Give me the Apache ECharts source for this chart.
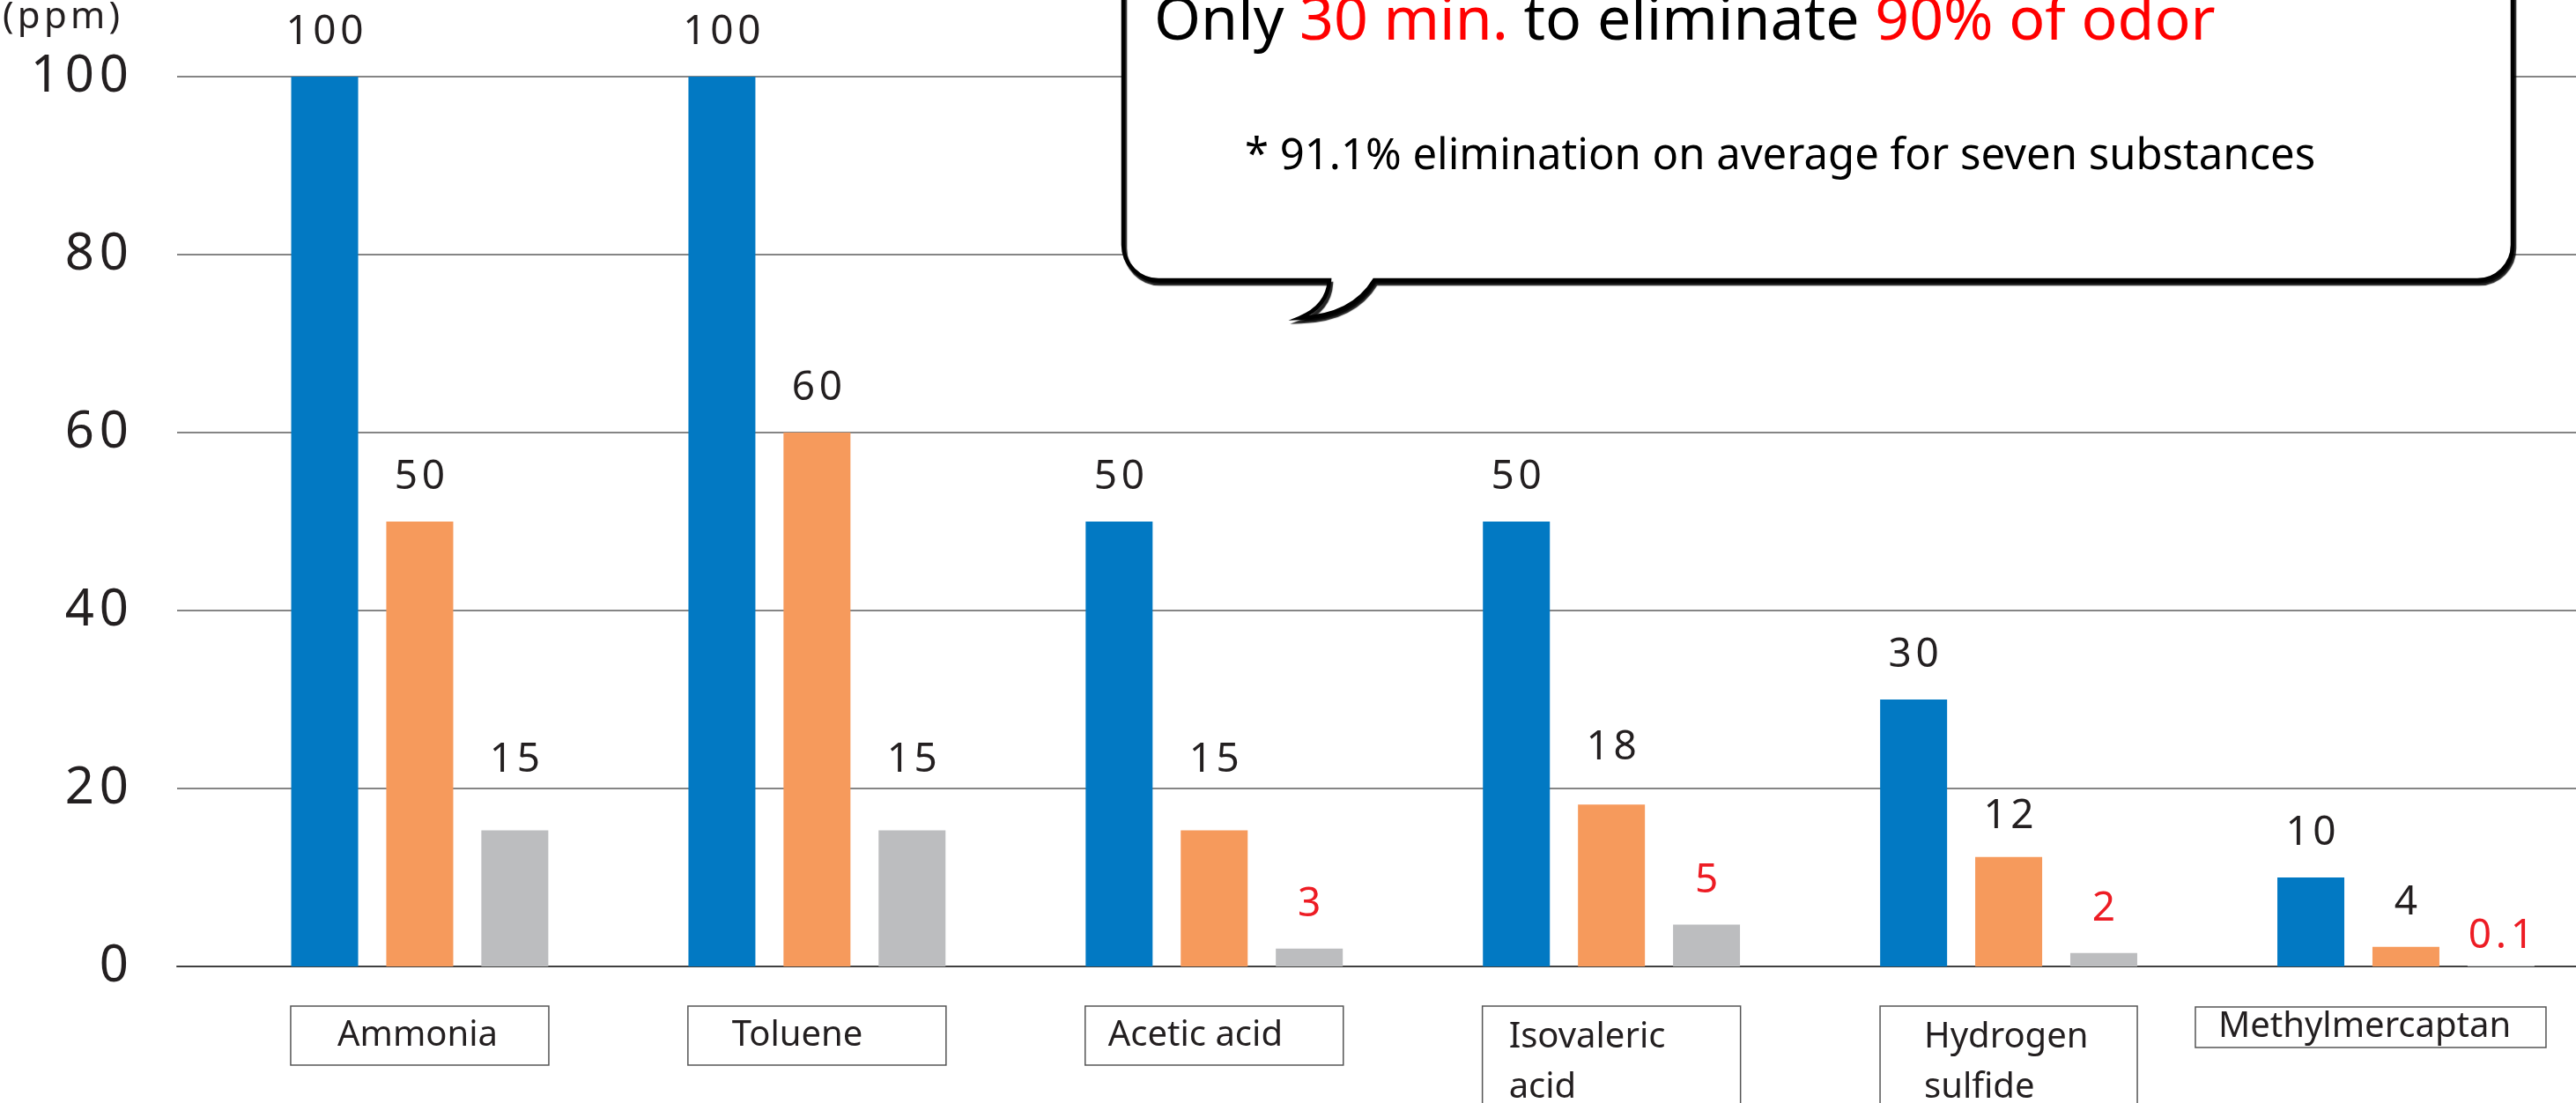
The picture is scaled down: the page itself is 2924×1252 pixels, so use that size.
<!DOCTYPE html>
<html>
<head>
<meta charset="utf-8">
<title>Odor elimination</title>
<script src="https://cdn.jsdelivr.net/npm/echarts@6/dist/echarts.min.js"></script>
<style>
  html, body { margin: 0; padding: 0; background: #fff; }
  #chart { width: 2924px; height: 1252px; }
</style>
</head>
<body>
<div id="chart"></div>
<script>
// data
const substances = ['Ammonia', 'Toluene', 'Acetic acid', 'Isovaleric acid', 'Hydrogen sulfide', 'Methylmercaptan'];
const categoryLines = [['Ammonia'], ['Toluene'], ['Acetic acid'], ['Isovaleric', 'acid'], ['Hydrogen', 'sulfide'], ['Methylmercaptan']];
const initialPpm = [100, 100, 50, 50, 30, 10];
const midPpm = [50, 60, 15.3, 18.2, 12.3, 2.2];
const finalPpm = [15.3, 15.3, 2, 4.7, 1.5, 0.1];
// printed labels (typed on the slide, not always equal to bar height)
const initialLabels = ['100', '100', '50', '50', '30', '10'];
const midLabels = ['50', '60', '15', '18', '12', '4'];
const finalLabels = ['15', '15', '3', '5', '2', '0.1'];
const yTicks = [0, 20, 40, 60, 80, 100];
const unitLabel = '(ppm)';

// styles
const BLUE = '#0279C3';
const ORANGE = '#F69A5C';
const GRAY = '#BCBDBF';
const RED = '#ED1C24';
const INK = '#231F20';
const FONT = 'Noto Sans';
const midLift = [0, 0, 30, 14, -4, 0];
const finalLift = [30, 30, 0, 0, 0, -17];
const finalRed = [false, false, true, true, true, true];
const boxLayout = [
  { width: 293, textLeft: 53 },
  { width: 293, textLeft: 50 },
  { width: 293, textLeft: 26 },
  { width: 293, textLeft: 30 },
  { width: 292, textLeft: 50 },
  { width: 398, textLeft: 26, shift: 40 },
];

const spaced = (s) => String(s).split('').join('\u200a');

// speech bubble outline
echarts.graphic.registerShape(
  'callout',
  echarts.graphic.extendPath(
    'M 1275 -80 L 1275 278 A 40 40 0 0 0 1315 318 L 1509 318 ' +
      'Q 1507 348 1475 361 Q 1535 359 1560 318 ' +
      'L 2812 318 A 40 40 0 0 0 2852 278 L 2852 -80 Z',
    {}
  )
);

function barSeries(name, values, labels, color, lifts, redFlags) {
  return {
    name,
    type: 'bar',
    xAxisIndex: 0,
    yAxisIndex: 0,
    barWidth: 76,
    barGap: '42%',
    itemStyle: { color },
    label: {
      show: true,
      position: 'top',
      fontSize: 46,
      fontFamily: FONT,
      formatter: (p) => spaced(labels[p.dataIndex]),
    },
    data: values.map((v, i) => ({
      value: v,
      label: {
        distance: 27 + (lifts ? lifts[i] : 0),
        color: redFlags && redFlags[i] ? RED : INK,
      },
    })),
  };
}

function categoryTextStyle(i) {
  const box = boxLayout[i];
  const lines = categoryLines[i].length;
  const lineHeight = lines > 1 ? 57 : 48;
  const contentW = box.width - box.textLeft - 6;
  const token = {
    width: contentW, align: 'left', fontSize: 40, fontFamily: FONT, color: INK, lineHeight,
  };
  if (box.shift) {
    return {
      rich: {
        box: Object.assign({}, token, {
          borderColor: '#555', borderWidth: 1.5, padding: [3, 6, 3, box.textLeft],
        }),
        gap: { width: box.shift * 2, align: 'left', lineHeight },
      },
    };
  }
  return {
    borderColor: '#555',
    borderWidth: 1.5,
    padding: lines > 1 ? [7, 6, 10, box.textLeft] : [10, 6, 9, box.textLeft],
    rich: { t: token },
  };
}

const chart = echarts.init(document.getElementById('chart'));

const yBase = {
  type: 'value',
  min: yTicks[0],
  max: yTicks[yTicks.length - 1],
  interval: yTicks[1] - yTicks[0],
  axisLine: { show: false },
  axisTick: { show: false },
  splitLine: { lineStyle: { color: '#858585', width: 2 } },
};

chart.setOption({
  backgroundColor: '#fff',
  animation: false,
  grid: [
    { left: 251, top: 87, width: 2705.4, height: 1010, outerBoundsMode: 'none' },
    { left: 201, top: 87, width: 50, height: 1010, outerBoundsMode: 'none' },
  ],
  xAxis: [
    {
      type: 'category',
      gridIndex: 0,
      data: substances.map((name, i) => ({ value: name, textStyle: categoryTextStyle(i) })),
      axisLine: { lineStyle: { color: '#404040', width: 2 } },
      axisTick: { show: false },
      axisLabel: {
        interval: 0,
        margin: 45,
        formatter: (value, i) =>
          boxLayout[i].shift
            ? `{box|${categoryLines[i][0]}}{gap|}`
            : categoryLines[i].map((l) => `{t|${l}}`).join('\n'),
      },
    },
    {
      type: 'category',
      gridIndex: 1,
      data: [''],
      axisLine: { lineStyle: { color: '#404040', width: 2 } },
      axisTick: { show: false },
      axisLabel: { show: false },
    },
  ],
  yAxis: [
    Object.assign({}, yBase, { gridIndex: 0, axisLabel: { show: false } }),
    Object.assign({}, yBase, {
      gridIndex: 1,
      name: spaced(unitLabel),
      nameLocation: 'end',
      nameGap: 46,
      nameTextStyle: {
        fontSize: 42, fontFamily: FONT, color: INK,
        align: 'right', verticalAlign: 'bottom', padding: [0, 65, 0, 0],
      },
      axisLabel: {
        margin: 55,
        fontSize: 58,
        fontFamily: FONT,
        color: INK,
        formatter: (v) => spaced(v),
      },
    }),
  ],
  series: [
    barSeries('Initial', initialPpm, initialLabels, BLUE),
    barSeries('Midway', midPpm, midLabels, ORANGE, midLift),
    barSeries('After 30 min.', finalPpm, finalLabels, GRAY, finalLift, finalRed),
  ],
  graphic: [
    {
      type: 'callout',
      z: 100,
      style: {
        fill: '#fff', stroke: '#000', lineWidth: 4.5,
        shadowColor: 'rgba(0,0,0,0.85)', shadowBlur: 1, shadowOffsetX: 2, shadowOffsetY: 4,
      },
    },
    {
      type: 'text',
      z: 101,
      x: 1310,
      y: 26,
      style: {
        text: '{k|Only }{r|30 min.}{k| to eliminate }{r|90% of odor}',
        verticalAlign: 'middle',
        rich: {
          k: { fontSize: 68, fontFamily: FONT, fill: '#000' },
          r: { fontSize: 68, fontFamily: FONT, fill: '#FF0000' },
        },
      },
    },
    {
      type: 'text',
      z: 101,
      x: 1413,
      y: 178,
      style: {
        text: '* 91.1% elimination on average for seven substances',
        fontSize: 49,
        fontFamily: FONT,
        fill: '#000',
        verticalAlign: 'middle',
      },
    },
  ],
});
</script>
</body>
</html>
